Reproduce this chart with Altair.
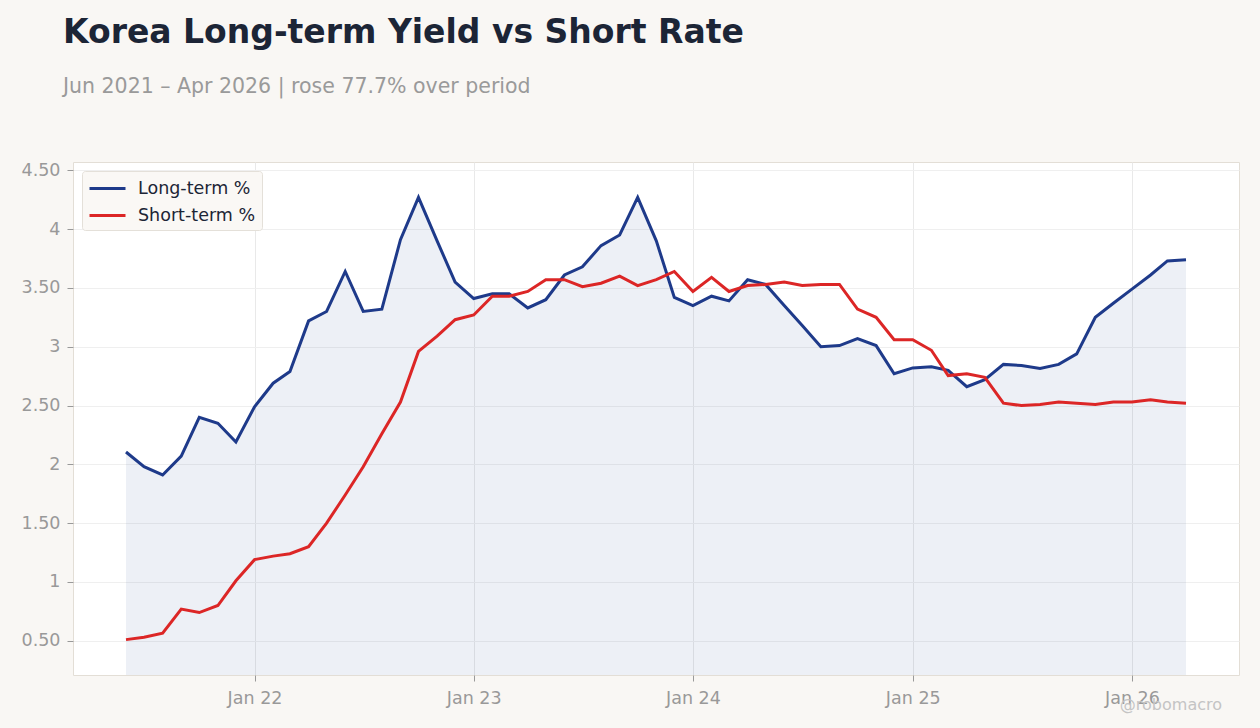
import altair as alt
import pandas as pd

# Monthly observations, Jun 2021 - Apr 2026
months = pd.date_range("2021-06-01", "2026-04-01", freq="MS")

long_term = [
    2.105, 1.98, 1.91, 2.07, 2.40, 2.35, 2.19,
    2.49, 2.69, 2.79, 3.22, 3.30, 3.64, 3.30, 3.32, 3.91, 4.27, 3.90, 3.55,
    3.41, 3.45, 3.45, 3.33, 3.40, 3.61, 3.68, 3.86, 3.95, 4.27, 3.90, 3.42,
    3.35, 3.43, 3.39, 3.57, 3.53, 3.35, 3.18, 3.00, 3.01, 3.07, 3.01, 2.77,
    2.82, 2.83, 2.80, 2.66, 2.72, 2.85, 2.84, 2.815, 2.85, 2.94, 3.25, 3.37,
    3.49, 3.61, 3.73, 3.74,
]
short_term = [
    0.51, 0.53, 0.565, 0.77, 0.74, 0.80, 1.01,
    1.19, 1.22, 1.24, 1.30, 1.50, 1.74, 1.98, 2.26, 2.53, 2.96, 3.09, 3.23,
    3.27, 3.43, 3.43, 3.47, 3.57, 3.57, 3.51, 3.54, 3.60, 3.52, 3.57, 3.64,
    3.47, 3.59, 3.47, 3.52, 3.53, 3.55, 3.52, 3.53, 3.53, 3.32, 3.25, 3.06,
    3.06, 2.97, 2.755, 2.77, 2.74, 2.52, 2.50, 2.51, 2.53, 2.52, 2.51, 2.53,
    2.53, 2.55, 2.53, 2.52,
]

series_names = ["Long-term %", "Short-term %"]
series_colors = ["#1e3a8a", "#dc2626"]
year_ticks = ["2022-01-01", "2023-01-01", "2024-01-01", "2025-01-01", "2026-01-01"]
y_ticks = [0.5, 1, 1.5, 2, 2.5, 3, 3.5, 4, 4.5]

df_long = pd.DataFrame({"date": months, "value": long_term, "series": series_names[0]})
df_short = pd.DataFrame({"date": months, "value": short_term, "series": series_names[1]})
df = pd.concat([df_long, df_short], ignore_index=True)

# 8% vertical padding, 5% horizontal padding around the data
lo, hi = min(long_term + short_term), max(long_term + short_term)
ypad = (hi - lo) * 0.08
y_domain = [lo - ypad, hi + ypad]
span = months[-1] - months[0]
x_domain = [(months[0] - span * 0.05).isoformat(), (months[-1] + span * 0.05).isoformat()]

W, H = 1166, 513
FONT = "DejaVu Sans"

x_enc = alt.X(
    "date:T",
    scale=alt.Scale(domain=x_domain),
    axis=alt.Axis(
        values=year_ticks, format="%b %y", title=None, grid=True,
        gridColor="#e9e9e9", labelFontSize=17.5, labelColor="#999999",
        labelFont=FONT, labelPadding=8, tickColor="#999999", tickSize=6,
        domain=False,
    ),
)
y_scale = alt.Scale(domain=y_domain, nice=False, zero=False)
y_axis = alt.Axis(
    values=y_ticks, title=None, grid=True, gridColor="#efefef",
    labelExpr="datum.value % 1 == 0 ? format(datum.value, 'd') : format(datum.value, '.2f')",
    labelFontSize=17.5, labelColor="#999999", labelFont=FONT, labelPadding=7,
    ticks=True, tickSize=6, tickColor="#999999", domain=False,
)

area = alt.Chart(df_long).mark_area(
    color=series_colors[0], opacity=0.08, clip=True
).encode(
    x=x_enc,
    y=alt.Y("value:Q", scale=y_scale, axis=y_axis),
)

lines = alt.Chart(df).mark_line(strokeWidth=3).encode(
    x=x_enc,
    y=alt.Y("value:Q", scale=y_scale, axis=y_axis),
    color=alt.Color(
        "series:N",
        scale=alt.Scale(domain=series_names, range=series_colors),
        legend=alt.Legend(
            title=None, orient="none", legendX=9, legendY=9,
            fillColor="#faf8f5", strokeColor="#e4e0d9", cornerRadius=3,
            padding=6, labelFontSize=17.5, labelFont=FONT, labelColor="#1c2536",
            symbolType="M-1.8,0H1.8", symbolStrokeWidth=3, symbolSize=400,
            symbolOffset=8, rowPadding=7, labelOffset=19,
        ),
    ),
)

watermark = alt.Chart(pd.DataFrame({"t": ["@robomacro"]})).mark_text(
    align="right", baseline="middle", fontSize=16, font=FONT, color="#c4c4c4"
).encode(x=alt.value(W - 17), y=alt.value(H + 30), text="t:N")

chart = alt.layer(area, lines, watermark).properties(
    width=W,
    height=H,
    autosize=alt.AutoSizeParams(type="none"),
    padding={"left": 73, "top": 162, "right": 21, "bottom": 53},
    background="#f9f7f4",
    title=alt.TitleParams(
        text="Korea Long-term Yield vs Short Rate",
        subtitle="Jun 2021 \u2013 Apr 2026 | rose 77.7% over period",
        anchor="start", frame="group", dx=-10, offset=64,
        font=FONT, fontSize=33, fontWeight="bold", color="#1c2536",
        subtitleFont=FONT, subtitleFontSize=20.5, subtitleColor="#9a9a9a",
        subtitlePadding=27,
    ),
).configure_view(fill="white", stroke="#e3ded6", strokeWidth=1)

chart.save("out.html", embed_options={"renderer": "svg", "actions": False})
